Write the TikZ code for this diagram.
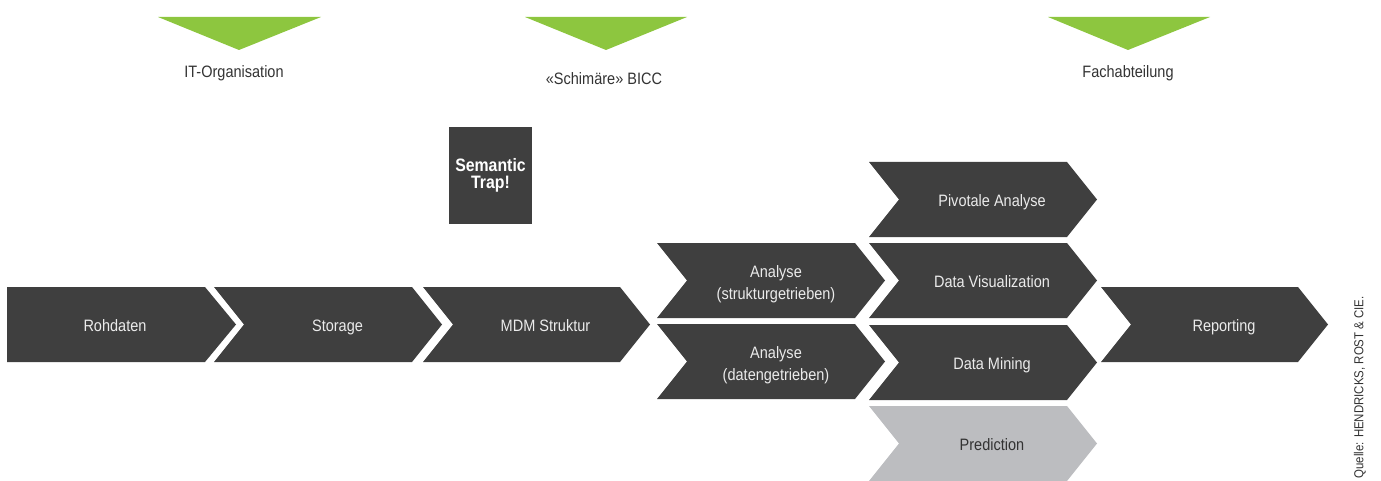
\documentclass[tikz,border=0pt]{standalone}
\usepackage{fontspec}
\setmainfont{Liberation Sans}[FakeStretch=0.88]
\definecolor{chevgray}{HTML}{3F3F3F}
\definecolor{chevlightgray}{HTML}{BCBDC0}
\definecolor{leafgreen}{HTML}{8DC63F}
\definecolor{labelgray}{HTML}{333333}
\tikzset{
  chevdark/.style={fill=chevgray},
  chevdark text/.style={text=white!92!black, align=center, inner sep=0pt,
    font=\fontsize{16.5}{22}\selectfont},
  chevlight/.style={fill=chevlightgray},
  chevlight text/.style={text=labelgray, align=center, inner sep=0pt,
    font=\fontsize{16.5}{22}\selectfont},
  greentri/.style={fill=leafgreen},
  toplabel/.style={text=labelgray, inner sep=0pt, font=\fontsize{16.5}{20}\selectfont},
}
% chevron with one-line label: #1 style, #2 name, #3 x left, #4 y top, #5 x right (top corner), #6 text x, #7 text
\newcommand\chev[7][chevdark]{%
  \fill[#1] (#3,#4) -- (#5,#4) -- ({#5+30},{#4+37.5}) -- (#5,{#4+75})
    -- (#3,{#4+75}) -- ({#3+30},{#4+37.5}) -- cycle;
  \node[#1 text, anchor=base] (#2) at (#6,{#4+44.5}) {#7};%
}
% chevron with two-line label
\newcommand\chevtwo[7][chevdark]{%
  \fill[#1] (#3,#4) -- (#5,#4) -- ({#5+30},{#4+37.5}) -- (#5,{#4+75})
    -- (#3,{#4+75}) -- ({#3+30},{#4+37.5}) -- cycle;
  \node[#1 text] (#2) at (#6,{#4+41}) {#7};%
}
\begin{document}
\begin{tikzpicture}[x=1pt,y=-1pt]
\useasboundingbox (0,0) rectangle (1381,481);
\clip (0,0) rectangle (1381,481);

% green triangles and their labels
\fill[greentri] (158,17) -- (321,17) -- (239,50) -- cycle;
\node[toplabel, anchor=base] (itorg) at (234,78) {IT-Organisation};
\fill[greentri] (525,17) -- (687,17) -- (606,50) -- cycle;
\node[toplabel, anchor=base] (bicc) at (604,85) {«Schimäre» BICC};
\fill[greentri] (1048,17) -- (1210,17) -- (1128,50) -- cycle;
\node[toplabel, anchor=base] (fach) at (1128,78) {Fachabteilung};

% semantic trap box
\node[fill=chevgray, minimum width=83pt, minimum height=97pt, inner sep=0pt,
  text=white, align=center, font=\bfseries\fontsize{18}{17}\selectfont]
  (trap) at (490.5,175.5) {Semantic\\Trap!};

% main row
\fill[chevdark] (7,287) -- (205,287) -- (236,324.5) -- (205,362) -- (7,362) -- cycle;
\node[chevdark text, anchor=base] (rohdaten) at (115,331.5) {Rohdaten};
\chev{storage}{214}{287}{412}{337.5}{Storage}
\chev{mdm}{423}{287}{620}{545.5}{MDM Struktur}

% analyse
\chevtwo{anastr}{657}{243}{855}{776}{Analyse\\(strukturgetrieben)}
\chevtwo{anadat}{657}{324}{855}{776}{Analyse\\(datengetrieben)}

% methods
\chev{pivot}{869}{162}{1067}{992}{Pivotale Analyse}
\chev{dataviz}{869}{243}{1067}{992}{Data Visualization}
\chev{datamin}{869}{325}{1067}{992}{Data Mining}
\chev[chevlight]{predict}{869}{406}{1067}{992}{Prediction}

% reporting
\chev{report}{1101}{287}{1298}{1224}{Reporting}

% source
\node[rotate=90, anchor=east, inner sep=0pt, text=labelgray,
  font=\fontsize{13}{13}\selectfont] (quelle) at (1360,296) {Quelle: HENDRICKS, ROST \& CIE.};
\end{tikzpicture}
\end{document}
